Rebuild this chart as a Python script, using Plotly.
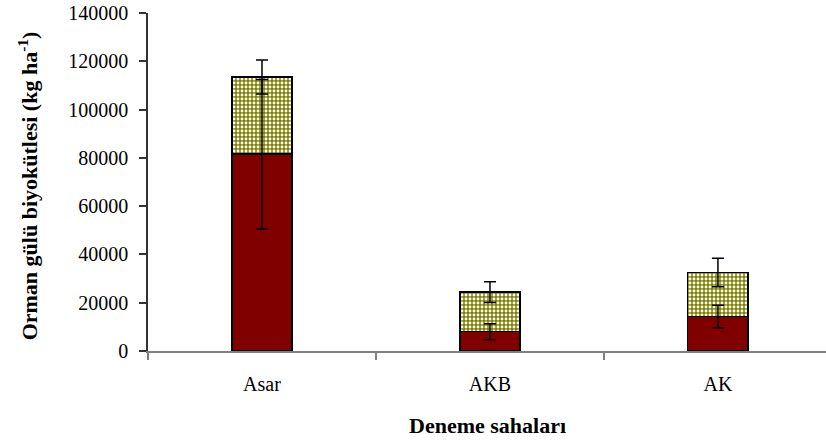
import plotly.graph_objects as go

categories = ["Asar", "AKB", "AK"]
dark_vals = [81500, 8000, 14300]
dark_err = [31000, 3300, 4650]
green_vals = [32000, 16400, 18200]
total_err = [7000, 4300, 5900]
y_ticks = [0, 20000, 40000, 60000, 80000, 100000, 120000, 140000]

totals = [d + g for d, g in zip(dark_vals, green_vals)]
font_family = "Liberation Serif"

fig = go.Figure()
fig.add_trace(go.Bar(
    x=categories, y=dark_vals, width=0.265,
    marker=dict(color="#800000", line=dict(color="black", width=1.5)),
    showlegend=False,
))
fig.add_trace(go.Bar(
    x=categories, y=green_vals, width=0.265,
    marker=dict(color="#808000", line=dict(color="black", width=1.5),
                pattern=dict(shape=".", fgcolor="white", bgcolor="#808000",
                             size=4, solidity=0.4, fillmode="replace")),
    showlegend=False,
))
for yv, ev in [(dark_vals, dark_err), (totals, total_err)]:
    fig.add_trace(go.Scatter(
        x=categories, y=yv, mode="markers",
        marker=dict(opacity=0, size=1),
        error_y=dict(type="data", array=ev, visible=True, color="black",
                     thickness=1.5, width=6),
        showlegend=False, hoverinfo="skip",
    ))

fig.update_layout(
    barmode="stack",
    width=826, height=441,
    margin=dict(l=148, r=0, t=13, b=90),
    paper_bgcolor="white", plot_bgcolor="white",
    font=dict(family=font_family, size=20, color="black"),
    xaxis=dict(
        range=[-0.5, 2.474], showline=True, linecolor="#808080", linewidth=1.5,
        ticks="outside", tickson="boundaries", ticklen=7, tickcolor="#808080",
        tickwidth=1.5, showgrid=False, ticklabelstandoff=14, automargin=False,
        tickfont=dict(family=font_family, size=20),
    ),
    yaxis=dict(
        range=[0, 140000], tickvals=y_ticks, ticktext=[str(v) for v in y_ticks],
        showline=True, linecolor="#333333", linewidth=1.5,
        ticks="outside", ticklen=7, tickcolor="#333333", tickwidth=1.5,
        showgrid=False, zeroline=False, ticklabelstandoff=7,
        ticklabeloverflow="allow", automargin=False,
        tickfont=dict(family=font_family, size=20),
    ),
    annotations=[
        dict(text="<b>Orman gülü biyokütlesi (kg ha<sup>-1</sup>)</b>",
             xref="paper", yref="paper", x=-0.177, y=0.49,
             xanchor="center", yanchor="middle", textangle=-90,
             showarrow=False, font=dict(family=font_family, size=22)),
        dict(text="<b>Deneme sahaları</b>",
             xref="paper", yref="paper", x=0.5, y=-0.219,
             xanchor="center", yanchor="middle",
             showarrow=False, font=dict(family=font_family, size=22)),
    ],
)

fig.write_html("out.html", config={"displayModeBar": False},
               post_script="document.body.style.margin='0';")
